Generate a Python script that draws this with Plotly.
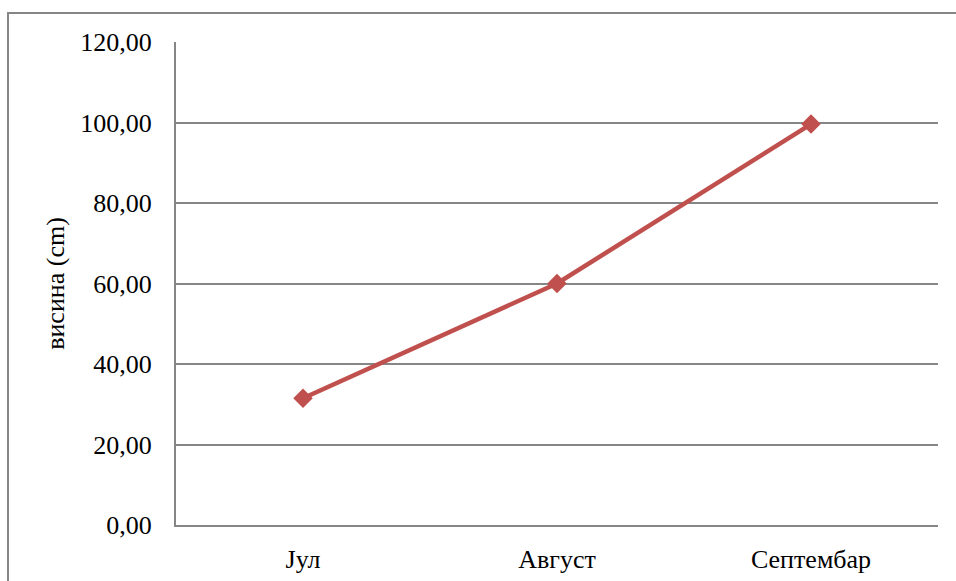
import plotly.graph_objects as go

# Monthly plant height
months = ["Јул", "Август", "Септембар"]
height_cm = [31.5, 60.0, 99.6]
y_ticks = [0, 20, 40, 60, 80, 100, 120]

W, H = 956, 581
ml, mr, mt, mb = 176, 18, 42, 56
pw, ph = W - ml - mr, H - mt - mb

fig = go.Figure(
    go.Scatter(
        x=months,
        y=height_cm,
        mode="lines+markers",
        line=dict(color="#C0504D", width=4.5),
        marker=dict(symbol="diamond", size=15, color="#C0504D"),
        showlegend=False,
    )
)

font = dict(family="'Liberation Serif', 'DejaVu Serif', serif", size=26, color="#000000")

fig.update_layout(
    width=W,
    height=H,
    margin=dict(l=ml, r=mr, t=mt, b=mb),
    paper_bgcolor="white",
    plot_bgcolor="white",
    separators=", ",
    font=font,
    xaxis=dict(
        type="category",
        range=[-0.5, 2.5],
        automargin=False,
        showgrid=False,
        showline=True,
        linecolor="#868686",
        linewidth=2,
        ticks="",
        ticklabelstandoff=10,
        tickfont=font,
    ),
    yaxis=dict(
        range=[0, 120],
        tickvals=y_ticks,
        tickformat=".2f",
        automargin=False,
        showgrid=True,
        gridcolor="#868686",
        gridwidth=1.5,
        showline=True,
        linecolor="#868686",
        linewidth=2,
        ticks="",
        ticklabelstandoff=17,
        zeroline=False,
        tickfont=font,
        title=dict(text="висина (cm)", font=font, standoff=8),
    ),
)

# Outer chart frame
fig.add_shape(
    type="rect",
    xref="paper",
    yref="paper",
    x0=(8 - ml) / pw,
    x1=1 + (mr + 20) / pw,
    y0=-(mb + 20) / ph,
    y1=1 + (mt - 13) / ph,
    line=dict(color="#868686", width=2),
    fillcolor="rgba(0,0,0,0)",
    layer="below",
)

fig.write_html("out.html")
